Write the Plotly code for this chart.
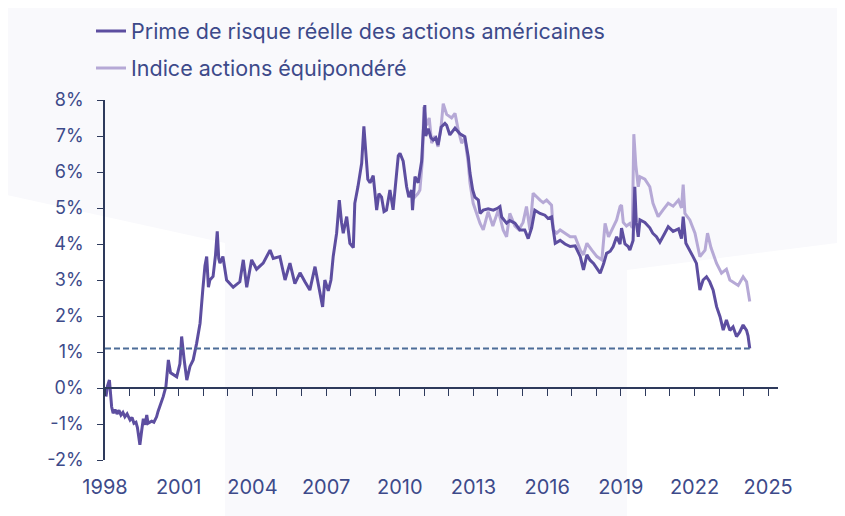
import plotly.graph_objects as go

# ---------------- data ----------------
prime_t = [1998.04, 1998.10, 1998.18, 1998.22, 1998.27, 1998.33, 1998.41, 1998.49, 1998.57, 1998.65,
           1998.73, 1998.81, 1998.90, 1999.02, 1999.10, 1999.18, 1999.26, 1999.32, 1999.38, 1999.42,
           1999.49, 1999.56, 1999.63, 1999.70, 1999.75, 1999.90, 1999.99, 2000.10, 2000.16, 2000.24,
           2000.37, 2000.48, 2000.58, 2000.67, 2000.77, 2000.92, 2001.05, 2001.12, 2001.22, 2001.33,
           2001.46, 2001.59, 2001.73, 2001.87, 2001.98, 2002.07, 2002.14, 2002.21, 2002.27, 2002.40,
           2002.50, 2002.57, 2002.63, 2002.68, 2002.80, 2002.95, 2003.22, 2003.49, 2003.63, 2003.77,
           2003.97, 2004.17, 2004.44, 2004.72, 2004.85, 2005.12, 2005.33, 2005.53, 2005.73, 2005.94,
           2006.14, 2006.34, 2006.55, 2006.75, 2006.86, 2006.95, 2007.09, 2007.20, 2007.29, 2007.43,
           2007.54, 2007.63, 2007.70, 2007.84, 2007.97, 2008.11, 2008.17, 2008.30, 2008.45, 2008.54,
           2008.62, 2008.70, 2008.79, 2008.92, 2009.06, 2009.15, 2009.26, 2009.36, 2009.46, 2009.60,
           2009.73, 2009.87, 2009.94, 2010.01, 2010.14, 2010.28, 2010.37, 2010.48, 2010.52, 2010.62,
           2010.75, 2010.89, 2010.96, 2011.02, 2011.06, 2011.16, 2011.27, 2011.36, 2011.47, 2011.56,
           2011.69, 2011.84, 2011.91, 2012.04, 2012.25, 2012.45, 2012.65, 2012.79, 2012.86, 2012.97,
           2013.06, 2013.20, 2013.27, 2013.40, 2013.60, 2013.81, 2014.00, 2014.08, 2014.15, 2014.35,
           2014.48, 2014.69, 2014.89, 2015.09, 2015.23, 2015.37, 2015.50, 2015.71, 2015.91, 2016.04,
           2016.18, 2016.25, 2016.33, 2016.53, 2016.73, 2016.94, 2017.14, 2017.35, 2017.48, 2017.62,
           2017.75, 2017.89, 2018.03, 2018.16, 2018.30, 2018.42, 2018.57, 2018.69, 2018.83, 2018.97,
           2019.03, 2019.17, 2019.30, 2019.37, 2019.50, 2019.57, 2019.63, 2019.71, 2019.78, 2019.98,
           2020.18, 2020.30, 2020.45, 2020.59, 2020.79, 2020.93, 2021.13, 2021.35, 2021.47, 2021.54,
           2021.65, 2021.81, 2021.94, 2022.08, 2022.22, 2022.35, 2022.49, 2022.62, 2022.76, 2022.90,
           2023.04, 2023.17, 2023.30, 2023.44, 2023.57, 2023.71, 2023.84, 2023.98, 2024.12, 2024.18,
           2024.25]
prime_v = [-0.24, 0.05, 0.22, -0.20, -0.52, -0.70, -0.60, -0.72, -0.62, -0.75,
           -0.68, -0.80, -0.72, -0.89, -0.82, -0.98, -0.95, -1.10, -1.35, -1.58,
           -1.20, -0.85, -1.02, -0.75, -0.98, -0.92, -0.95, -0.80, -0.65, -0.50,
           -0.24, 0.04, 0.78, 0.42, 0.38, 0.31, 0.67, 1.43, 0.80, 0.22,
           0.60, 0.78, 1.24, 1.80, 2.72, 3.40, 3.65, 2.80, 3.00, 3.10,
           3.70, 4.35, 3.60, 3.47, 3.65, 3.00, 2.80, 2.95, 3.56, 2.80,
           3.56, 3.30, 3.47, 3.83, 3.60, 3.65, 3.00, 3.47, 2.90, 3.20,
           2.95, 2.72, 3.37, 2.63, 2.25, 3.00, 2.70, 3.00, 3.65, 4.30,
           5.22, 4.60, 4.30, 4.76, 4.02, 3.90, 5.13, 5.60, 6.24, 7.27,
           6.60, 5.80, 5.70, 5.90, 4.94, 5.40, 5.30, 4.90, 4.94, 5.50,
           4.95, 6.05, 6.45, 6.52, 6.30, 5.59, 5.30, 5.50, 4.94, 5.87,
           5.70, 6.29, 7.00, 7.86, 7.00, 7.20, 6.95, 6.89, 6.95, 6.75,
           7.25, 7.35, 7.30, 7.03, 7.22, 7.06, 6.98, 6.42, 5.97, 5.50,
           5.30, 5.22, 4.85, 4.94, 4.98, 4.94, 5.00, 5.04, 4.75, 4.58,
           4.65, 4.58, 4.39, 4.39, 4.15, 4.45, 4.94, 4.85, 4.80, 4.71,
           4.75, 4.39, 4.02, 4.10, 4.00, 3.93, 3.95, 3.65, 3.28, 3.70,
           3.55, 3.46, 3.30, 3.19, 3.45, 3.74, 3.80, 3.93, 4.20, 4.00,
           4.44, 4.00, 3.93, 3.83, 4.10, 5.59, 4.60, 4.20, 4.67, 4.60,
           4.45, 4.30, 4.20, 4.05, 4.30, 4.48, 4.35, 4.42, 4.15, 4.76,
           4.02, 3.83, 3.65, 3.46, 2.72, 3.00, 3.09, 2.95, 2.72, 2.26,
           1.98, 1.61, 1.89, 1.60, 1.70, 1.43, 1.55, 1.75, 1.60, 1.45,
           1.10]

equi_t = [2010.54, 2010.62, 2010.74, 2010.82, 2010.93, 2010.98, 2011.09, 2011.20, 2011.30, 2011.43,
          2011.56, 2011.69, 2011.77, 2011.91, 2012.11, 2012.25, 2012.38, 2012.52, 2012.65, 2012.79,
          2012.86, 2012.99, 2013.13, 2013.27, 2013.40, 2013.60, 2013.79, 2014.01, 2014.21, 2014.35,
          2014.48, 2014.69, 2014.85, 2015.02, 2015.16, 2015.30, 2015.43, 2015.57, 2015.71, 2015.84,
          2015.98, 2016.18, 2016.25, 2016.39, 2016.53, 2016.73, 2016.94, 2017.14, 2017.35, 2017.48,
          2017.62, 2017.82, 2018.03, 2018.23, 2018.36, 2018.50, 2018.69, 2018.83, 2018.97, 2019.03,
          2019.10, 2019.23, 2019.37, 2019.47, 2019.53, 2019.61, 2019.71, 2019.78, 2019.98, 2020.18,
          2020.31, 2020.52, 2020.72, 2020.93, 2021.13, 2021.35, 2021.47, 2021.54, 2021.61, 2021.81,
          2022.02, 2022.22, 2022.43, 2022.53, 2022.67, 2022.90, 2023.10, 2023.30, 2023.44, 2023.64,
          2023.78, 2023.98, 2024.12, 2024.25]
equi_v = [5.25, 5.31, 5.40, 5.50, 6.40, 7.81, 7.30, 7.50, 6.80, 7.00,
          6.70, 7.30, 7.90, 7.60, 7.50, 7.63, 7.17, 6.80, 6.95, 6.24,
          5.69, 5.13, 4.85, 4.57, 4.39, 4.90, 4.50, 4.94, 4.39, 4.20,
          4.85, 4.50, 4.40, 4.60, 5.04, 4.39, 5.41, 5.30, 5.22, 5.15,
          5.22, 5.08, 4.39, 4.30, 4.39, 4.30, 4.20, 4.20, 3.83, 3.70,
          4.02, 3.83, 3.65, 3.56, 4.57, 4.20, 4.45, 4.67, 5.04, 5.08,
          4.60, 4.50, 4.57, 4.45, 7.05, 6.20, 5.59, 5.87, 5.80, 5.59,
          5.13, 4.76, 4.95, 5.13, 5.05, 5.22, 5.00, 5.65, 4.85, 4.67,
          4.30, 3.65, 3.83, 4.30, 3.90, 3.46, 3.19, 3.30, 3.00, 2.90,
          2.85, 3.09, 2.95, 2.40]

ref_level = 1.1
ref_t = [1998.0, 2024.25]

y_ticks = [-2, -1, 0, 1, 2, 3, 4, 5, 6, 7, 8]
y_labels = ["-2%", "-1%", "0%", "1%", "2%", "3%", "4%", "5%", "6%", "7%", "8%"]
x_ticks = [1998, 2001, 2004, 2007, 2010, 2013, 2016, 2019, 2022, 2025]
x_labels = [str(v) for v in x_ticks]

name_prime = "Prime de risque réelle des actions américaines"
name_equi = "Indice actions équipondéré"

# ---------------- styles ----------------
DARK = "#5d4ea0"
LIGHT = "#b6a9d6"
DASH = "#4d6d98"
TXT = "#3d4a8a"
AXIS = "#2e3a5c"
BG = "#f9f9fc"
FONT = "Inter, Lato, sans-serif"
X_RANGE = [1998, 2025.4]
Y_RANGE = [-2, 8]
W, H = 837, 508   # page body adds an 8px margin, so the figure fills the 845x516 window

fig = go.Figure()

fig.add_trace(go.Scatter(x=equi_t, y=equi_v, mode="lines", name=name_equi,
                         line=dict(color=LIGHT, width=3), legend="legend2"))
fig.add_trace(go.Scatter(x=prime_t, y=prime_v, mode="lines", name=name_prime,
                         line=dict(color=DARK, width=3), legend="legend"))
fig.add_trace(go.Scatter(x=ref_t, y=[ref_level, ref_level], mode="lines", showlegend=False,
                         xaxis="x2", line=dict(color=DASH, width=2, dash="6px,3px")))

# decorative background polygon (paper coordinates)
fig.add_shape(type="path", xref="paper", yref="paper", layer="below", line_width=0,
              fillcolor=BG,
              path="M-0.16,1.3 L1.1,1.3 L1.1,0.606 L0.7756,0.528 L0.7756,-0.16 "
                   "L0.1783,-0.16 L0.1783,0.603 L-0.16,0.742 Z")

fig.update_layout(
    width=W, height=H,
    margin=dict(l=97, r=67, t=92, b=56, autoexpand=False),
    paper_bgcolor="white", plot_bgcolor="rgba(0,0,0,0)",
    font=dict(family=FONT, color=TXT),
    showlegend=True,
    legend=dict(xref="container", yref="container", x=83 / W, y=1 - 23 / H,
                xanchor="left", yanchor="middle", bgcolor="rgba(0,0,0,0)",
                font=dict(size=21.5, color=TXT, family=FONT)),
    legend2=dict(xref="container", yref="container", x=83 / W, y=1 - 60 / H,
                 xanchor="left", yanchor="middle", bgcolor="rgba(0,0,0,0)",
                 font=dict(size=21.5, color=TXT, family=FONT)),
    xaxis=dict(range=X_RANGE, tickmode="array", tickvals=x_ticks, ticktext=x_labels,
               showline=False, ticks="", showgrid=False, zeroline=False, tickangle=0,
               tickfont=dict(size=20, color=TXT), ticklabelstandoff=13),
    xaxis2=dict(range=X_RANGE, overlaying="x", anchor="free", position=0.2,
                showline=True, linecolor=AXIS, linewidth=1.5, ticks="outside",
                tickmode="linear", tick0=1998, dtick=1, ticklen=7, tickwidth=1.2,
                tickcolor=AXIS, showticklabels=False, showgrid=False, zeroline=False),
    yaxis=dict(range=Y_RANGE, tickmode="array", tickvals=y_ticks, ticktext=y_labels,
               showline=True, linecolor=AXIS, linewidth=1.5, ticks="outside", ticklen=6,
               tickwidth=1.2, tickcolor=AXIS, showgrid=False, zeroline=False,
               tickfont=dict(size=18, color=TXT), ticklabelstandoff=10),
)

fig.write_html("out.html")
